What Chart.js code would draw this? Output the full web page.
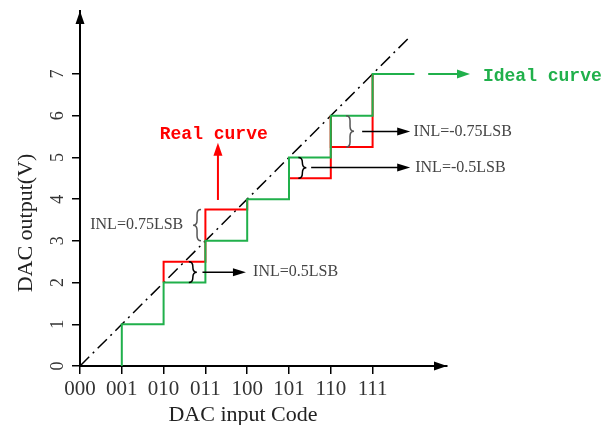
<!DOCTYPE html>
<html>
<head>
<meta charset="utf-8">
<script src="https://cdn.jsdelivr.net/npm/chart.js@4"></script>
<style>
  html, body { margin: 0; padding: 0; background: #fff; }
  #wrap { width: 616px; height: 425px; position: relative; }
</style>
</head>
<body>
<div id="wrap"><canvas id="dacChart"></canvas></div>
<script>
// axis categories and ticks
const codes = ['000', '001', '010', '011', '100', '101', '110', '111'];
const voltTicks = [0, 1, 2, 3, 4, 5, 6, 7];

// ideal staircase: riser positions and the level just below each riser
const idealCodes = [1, 2, 3, 4, 5, 6, 7, 8];
const idealOut = [0, 1, 2, 3, 4, 5, 6, 7];

// codes where the real output differs from the ideal one
const realCodes = [2, 3, 5, 6];
const realOut = [2.5, 3.75, 4.5, 5.25];

// straight ideal transfer line (dash-dot)
const lineCodes = [0, 7.9];
const lineOut = [0, 7.9];

const inlLabels = ['INL=0.5LSB', 'INL=0.75LSB', 'INL=-0.5LSB', 'INL=-0.75LSB'];

const GREEN = '#20b04b';
const RED = '#ff0000';
const SERIF = '"Liberation Serif", "DejaVu Serif", serif';
const MONO = '"Liberation Mono", "DejaVu Sans Mono", monospace';

// ideal level held from code c to c+1
function idealAt(c) {
    const i = idealCodes.indexOf(c + 1);
    return i >= 0 ? idealOut[i] : c;
}

function realSegments() {
    return realCodes.map((c, i) => ({
        data: [
            { x: c, y: idealAt(c) },
            { x: c, y: realOut[i] },
            { x: c + 1, y: realOut[i] },
            { x: c + 1, y: idealAt(c + 1) }
        ],
        borderColor: RED,
        borderWidth: 2,
        pointRadius: 0,
        order: 2
    }));
}

// brace: dir 1 = '}', dir -1 = '{'
function drawBrace(ctx, x, yTop, yBot, dir, color) {
    const w = 4;
    const mid = (yTop + yBot) / 2;
    const r = Math.min(5, (yBot - yTop) / 4);
    ctx.beginPath();
    ctx.moveTo(x - dir * w, yTop);
    ctx.quadraticCurveTo(x, yTop, x, yTop + r);
    ctx.lineTo(x, mid - r);
    ctx.quadraticCurveTo(x, mid, x + dir * w, mid);
    ctx.quadraticCurveTo(x, mid, x, mid + r);
    ctx.lineTo(x, yBot - r);
    ctx.quadraticCurveTo(x, yBot, x - dir * w, yBot);
    ctx.strokeStyle = color;
    ctx.lineWidth = 1.5;
    ctx.stroke();
}

function drawArrow(ctx, x1, y1, x2, y2, color, lw, head, half) {
    const a = Math.atan2(y2 - y1, x2 - x1);
    ctx.strokeStyle = color;
    ctx.fillStyle = color;
    ctx.lineWidth = lw;
    ctx.beginPath();
    ctx.moveTo(x1, y1);
    ctx.lineTo(x2 - Math.cos(a) * head * 0.8, y2 - Math.sin(a) * head * 0.8);
    ctx.stroke();
    ctx.beginPath();
    ctx.moveTo(x2, y2);
    ctx.lineTo(x2 - Math.cos(a) * head - Math.sin(a) * half, y2 - Math.sin(a) * head + Math.cos(a) * half);
    ctx.lineTo(x2 - Math.cos(a) * head + Math.sin(a) * half, y2 - Math.sin(a) * head - Math.cos(a) * half);
    ctx.closePath();
    ctx.fill();
}

// annotation layout, in data units
const notes = [
    { text: inlLabels[0], code: 2, braceX: 2.7, dir: 1, braceColor: '#000', arrow: [2.93, 3.97, 2.25], textX: 4.14, textY: 2.25, align: 'left' },
    { text: inlLabels[1], code: 3, braceX: 2.8, dir: -1, braceColor: '#555', arrow: null, textX: 2.47, textY: 3.38, align: 'right' },
    { text: inlLabels[2], code: 5, braceX: 5.32, dir: 1, braceColor: '#000', arrow: [5.53, 7.9, 4.76], textX: 8.02, textY: 4.76, align: 'left' },
    { text: inlLabels[3], code: 6, braceX: 6.46, dir: 1, braceColor: '#555', arrow: [6.75, 7.9, 5.62], textX: 7.98, textY: 5.62, align: 'left' }
];

const extras = {
    id: 'extras',
    afterDraw(chart) {
        const { ctx, chartArea, scales: { x, y } } = chart;
        const px = v => x.getPixelForValue(v);
        const py = v => y.getPixelForValue(v);
        ctx.save();

        // axis arrowheads
        drawArrow(ctx, px(0), chartArea.top + 14, px(0), chartArea.top, '#000', 2, 13, 4.5);
        drawArrow(ctx, chartArea.right - 14, py(0), chartArea.right, py(0), '#000', 2, 13, 4.5);

        // rotated y tick labels
        ctx.fillStyle = '#333';
        ctx.font = '18px ' + SERIF;
        ctx.textAlign = 'center';
        ctx.textBaseline = 'middle';
        voltTicks.forEach(v => {
            ctx.save();
            ctx.translate(58, py(v));
            ctx.rotate(-Math.PI / 2);
            ctx.fillText(String(v), 0, 0);
            ctx.restore();
        });

        // axis titles
        ctx.fillStyle = '#222';
        ctx.font = '22px ' + SERIF;
        ctx.save();
        ctx.translate(26, 223);
        ctx.rotate(-Math.PI / 2);
        ctx.fillText('DAC output(V)', 0, 0);
        ctx.restore();
        ctx.fillText('DAC input Code', 243, 415);

        // INL braces, arrows and labels
        notes.forEach(n => {
            const i = realCodes.indexOf(n.code);
            const lo = Math.min(idealAt(n.code), realOut[i]);
            const hi = Math.max(idealAt(n.code), realOut[i]);
            drawBrace(ctx, px(n.braceX), py(hi), py(lo), n.dir, n.braceColor);
            if (n.arrow) {
                drawArrow(ctx, px(n.arrow[0]), py(n.arrow[2]), px(n.arrow[1]), py(n.arrow[2]), '#000', 1.5, 13, 4);
            }
            ctx.fillStyle = '#444';
            ctx.font = '16px ' + SERIF;
            ctx.textAlign = n.align;
            ctx.textBaseline = 'middle';
            ctx.fillText(n.text, px(n.textX), py(n.textY));
        });

        // curve labels
        drawArrow(ctx, px(3.3), py(3.98), px(3.3), py(5.35), RED, 2, 13, 4.5);
        ctx.fillStyle = RED;
        ctx.font = 'bold 18px ' + MONO;
        ctx.textAlign = 'center';
        ctx.fillText('Real curve', px(3.2), py(5.55));

        drawArrow(ctx, px(8.33), py(7), px(9.33), py(7), GREEN, 2, 13, 4.5);
        ctx.fillStyle = GREEN;
        ctx.textAlign = 'left';
        ctx.fillText('Ideal curve', px(9.64), py(6.93));

        ctx.restore();
    }
};

function renderChart() {
    const ctx = document.getElementById('dacChart').getContext('2d');
    new Chart(ctx, {
        type: 'line',
        data: {
            datasets: [
                {
                    data: idealCodes.map((c, i) => ({ x: c, y: idealOut[i] })),
                    borderColor: GREEN,
                    borderWidth: 2,
                    pointRadius: 0,
                    stepped: 'after',
                    order: 1
                },
                ...realSegments(),
                {
                    data: lineCodes.map((c, i) => ({ x: c, y: lineOut[i] })),
                    borderColor: '#000',
                    borderWidth: 1.5,
                    borderDash: [13, 5, 2, 5],
                    pointRadius: 0,
                    order: 3,
                    clip: false
                }
            ]
        },
        options: {
            responsive: true,
            maintainAspectRatio: false,
            animation: false,
            layout: { padding: { top: 11, right: 169, left: 0, bottom: 0 } },
            plugins: { legend: { display: false }, tooltip: { enabled: false } },
            scales: {
                x: {
                    type: 'linear',
                    min: 0,
                    max: 8.78,
                    afterBuildTicks: s => { s.ticks = codes.map((c, i) => ({ value: i })); },
                    afterFit: s => { s.height = 59; },
                    ticks: {
                        callback: v => codes[v],
                        autoSkip: false,
                        maxRotation: 0,
                        padding: 3,
                        color: '#333',
                        font: { family: SERIF, size: 21 }
                    },
                    grid: { drawOnChartArea: false, drawTicks: true, tickLength: 8, color: '#000', lineWidth: 1.5 },
                    border: { display: true, color: '#000', width: 2 }
                },
                y: {
                    type: 'linear',
                    min: 0,
                    max: 8.51,
                    afterBuildTicks: s => { s.ticks = voltTicks.map(v => ({ value: v })); },
                    afterFit: s => { s.width = 80; },
                    ticks: { display: false },
                    grid: { drawOnChartArea: false, drawTicks: true, tickLength: 8, color: '#000', lineWidth: 1.5 },
                    border: { display: true, color: '#000', width: 2 }
                }
            }
        },
        plugins: [extras]
    });
}

window.onload = renderChart;
</script>
</body>
</html>
